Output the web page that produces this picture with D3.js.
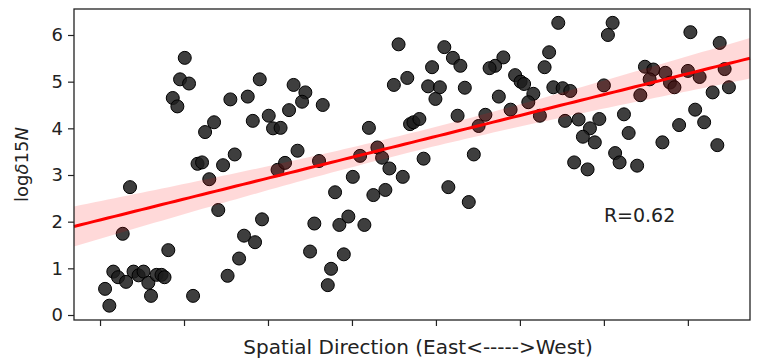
<!DOCTYPE html>
<html>
<head>
<meta charset="utf-8">
<script src="https://cdn.jsdelivr.net/npm/d3@7"></script>
<style>
  body { margin: 0; background: #fff; }
  svg { display: block; font-family: "DejaVu Sans", sans-serif; }
</style>
</head>
<body>
<svg width="760" height="358"></svg>
<script>
// spatial position (arbitrary units, east -> west) and log d15N values
const posX = [
  0.60, 1.11, 1.58, 2.14, 3.10, 3.99, 4.59, 5.18, 5.75, 6.07, 6.73, 7.32, 7.68, 8.13, 2.70,
  3.57, 11.08, 13.01, 14.08, 15.19, 16.56, 17.15, 18.46, 19.29, 11.61, 12.15, 14.65, 21.14, 22.03,
  10.09, 9.53, 10.60, 8.66, 9.21, 19.02, 15.52, 17.59, 23.05, 22.51, 20.09, 18.19, 13.58, 12.51,
  20.60, 21.50, 16.04, 23.52,
  24.45, 24.06, 26.52, 26.08, 30.97, 33.03, 33.59, 34.46, 36.05, 30.10, 38.53, 44.51, 32.02, 36.92,
  37.32, 38.03, 42.58, 35.55, 41.00, 42.02, 42.91, 39.54, 36.59, 34.99, 39.07, 40.47, 43.44, 39.94,
  48.03, 47.05, 46.39, 47.49, 48.89, 45.89, 45.08, 49.43, 50.08, 50.50,
  27.99, 32.55, 33.98, 25.52, 28.50, 29.57, 31.48, 25.01, 29.03, 27.51, 27.12, 41.48, 43.91,
  54.57, 61.04, 60.48, 70.30, 73.79, 53.48, 52.94, 51.60, 51.00, 52.38, 53.98, 55.09, 56.00, 60.00,
  55.38, 56.99, 59.46, 58.34, 57.50, 58.92, 62.39, 62.95, 61.34, 61.87, 56.46, 58.06, 63.96, 64.34,
  64.89, 65.89, 65.45, 67.32, 67.87, 68.40, 70.01, 71.40, 72.95, 74.89, 74.38, 70.87, 71.94, 68.96,
  66.97, 73.51
];
const logD15N = [
  0.56, 0.20, 0.93, 0.81, 0.71, 0.93, 0.85, 0.93, 0.69, 0.41, 0.86, 0.86, 0.81, 1.39, 1.74,
  2.74, 0.41, 2.91, 2.25, 0.84, 1.21, 1.70, 1.56, 2.05, 3.24, 3.27, 3.21, 3.11, 3.26,
  5.51, 5.05, 4.96, 4.65, 4.47, 5.05, 4.62, 4.68, 4.93, 4.39, 4.27, 4.16, 4.13, 3.92,
  4.00, 4.01, 3.44, 3.52,
  4.77, 4.57, 4.50, 3.30, 3.41, 3.59, 3.37, 3.14, 2.96, 2.96, 3.35, 3.44, 4.01, 4.09,
  4.13, 4.20, 4.27, 5.80, 5.74, 5.51, 5.34, 5.31, 5.08, 4.93, 4.90, 4.88, 4.87, 4.63,
  5.52, 5.34, 5.29, 4.68, 4.40, 4.29, 4.05, 5.14, 5.00, 4.95,
  2.63, 2.57, 2.68, 1.96, 1.93, 2.11, 1.93, 1.36, 1.30, 0.99, 0.64, 2.74, 2.42,
  6.26, 6.26, 6.00, 6.06, 5.83, 5.63, 5.31, 4.74, 4.56, 4.27, 4.88, 4.86, 4.80, 4.92,
  4.16, 4.19, 4.20, 4.00, 3.82, 3.70, 4.30, 3.90, 3.47, 3.27, 3.27, 3.12, 3.20, 4.71,
  5.32, 5.26, 5.05, 5.19, 4.98, 4.88, 5.23, 5.10, 4.77, 4.88, 5.27, 4.40, 4.13, 4.07,
  3.70, 3.64
];
const xTicks = [0, 10, 20, 30, 40, 50, 60, 70];
const yTicks = [0, 1, 2, 3, 4, 5, 6];
const rLabel = "R=0.62";

const svg = d3.select("svg"),
    margin = {top: 9, right: 10, bottom: 38, left: 74},
    width = +svg.attr("width") - margin.left - margin.right,
    height = +svg.attr("height") - margin.top - margin.bottom,
    g = svg.append("g").attr("transform", "translate(" + margin.left + "," + margin.top + ")");

const x = d3.scaleLinear().domain([-3.1, 77.4]).range([0, width]);
const y = d3.scaleLinear().domain([-0.107, 6.557]).range([height, 0]);

const data = posX.map((d, i) => ({x: d, y: logD15N[i]}));

// points first, the fit and its band sit on top (as in seaborn regplot)
g.append("g")
    .selectAll("circle")
    .data(data)
    .enter().append("circle")
    .attr("cx", d => x(d.x))
    .attr("cy", d => y(d.y))
    .attr("r", 6.5)
    .attr("fill", "#1c1c1c")
    .attr("fill-opacity", 0.85)
    .attr("stroke", "#000")
    .attr("stroke-width", 1);

// least squares fit with 95% confidence band
const n = data.length,
    mx = d3.mean(data, d => d.x),
    my = d3.mean(data, d => d.y),
    sxx = d3.sum(data, d => (d.x - mx) ** 2),
    sxy = d3.sum(data, d => (d.x - mx) * (d.y - my)),
    slope = sxy / sxx,
    icpt = my - slope * mx,
    s = Math.sqrt(d3.sum(data, d => (d.y - icpt - slope * d.x) ** 2) / (n - 2));

const grid = d3.range(0, 101).map(i => x.domain()[0] + (x.domain()[1] - x.domain()[0]) * i / 100);
const fit = grid.map(xv => {
    const yv = icpt + slope * xv,
        se = s * Math.sqrt(1 / n + (xv - mx) ** 2 / sxx);
    return {x: xv, y: yv, lo: yv - 1.98 * se, hi: yv + 1.98 * se};
});

g.append("path")
    .datum(fit)
    .attr("fill", "#ff0000")
    .attr("fill-opacity", 0.15)
    .attr("d", d3.area().x(d => x(d.x)).y0(d => y(d.lo)).y1(d => y(d.hi)));

g.append("path")
    .datum(fit)
    .attr("fill", "none")
    .attr("stroke", "#ff0000")
    .attr("stroke-width", 3)
    .attr("d", d3.line().x(d => x(d.x)).y(d => y(d.y)));

// axes
const xAxis = g.append("g")
    .attr("transform", "translate(0," + height + ")")
    .call(d3.axisBottom(x).tickValues(xTicks).tickFormat("").tickSizeOuter(0).tickSize(6));

const yAxis = g.append("g")
    .call(d3.axisLeft(y).tickValues(yTicks).tickFormat(d3.format("d")).tickSizeOuter(0).tickSize(6).tickPadding(5));

[xAxis, yAxis].forEach(a => {
    a.select(".domain").remove();
    a.selectAll("line").attr("stroke", "#222").attr("stroke-width", 1.2);
});
yAxis.selectAll("text")
    .attr("font-size", 18)
    .attr("font-family", "DejaVu Sans, sans-serif")
    .attr("fill", "#222");

// frame
g.append("rect")
    .attr("width", width)
    .attr("height", height)
    .attr("fill", "none")
    .attr("stroke", "#222")
    .attr("stroke-width", 1.3);

g.append("text")
    .attr("x", x(60.0))
    .attr("y", y(2.0))
    .attr("font-size", 19)
    .attr("fill", "#222")
    .text(rLabel);

svg.append("text")
    .attr("x", margin.left + width / 2 + 6)
    .attr("y", 354)
    .attr("text-anchor", "middle")
    .attr("font-size", 20)
    .attr("fill", "#222")
    .text("Spatial Direction (East<----->West)");

const yl = svg.append("text")
    .attr("transform", "translate(28," + (margin.top + height / 2) + ") rotate(-90)")
    .attr("text-anchor", "middle")
    .attr("font-size", 18)
    .attr("fill", "#222");
yl.append("tspan").text("log");
yl.append("tspan").attr("font-style", "italic").text("δ");
yl.append("tspan").text("15");
yl.append("tspan").attr("font-style", "italic").text("N");
</script>
</body>
</html>
